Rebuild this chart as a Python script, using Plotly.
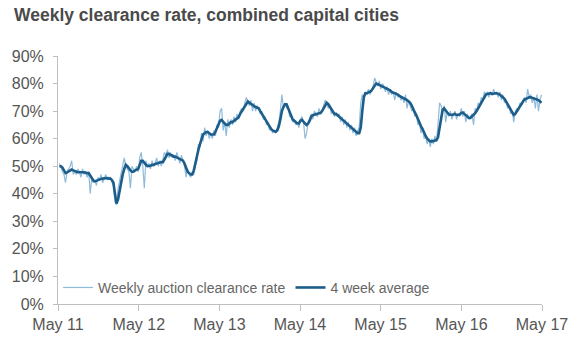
import pandas as pd
import plotly.graph_objects as go

# Weekly auction clearance rate (%), weekly from early May 2011
weekly = [
    51, 50, 48, 47, 44, 48, 49, 50, 52, 47,
    48, 47, 49, 48, 46, 49, 47, 48, 46, 48,
    40, 46, 44, 45, 43, 46, 45, 47, 44, 46,
    47, 45, 46, 46, 44, 43, 37, 36, 42, 45,
    48, 51, 53, 50, 49, 48, 42, 50, 49, 48,
    50, 48, 53, 55, 50, 42, 52, 50, 51, 49,
    52, 50, 51, 53, 50, 52, 50, 53, 55, 54,
    56, 53, 55, 53, 54, 52, 55, 53, 51, 54,
    52, 50, 46, 49, 47, 46, 48, 47, 50, 52,
    58, 57, 62, 59, 64, 61, 63, 60, 62, 60,
    63, 61, 65, 64, 70, 71, 63, 66, 61, 67,
    64, 67, 65, 68, 66, 69, 67, 70, 71, 70,
    73, 75, 73, 72, 74, 70, 73, 70, 72, 71,
    69, 70, 67, 68, 65, 66, 63, 64, 62, 63,
    62, 64, 66, 70, 76, 71, 73, 71, 72, 68,
    68, 66, 67, 65, 66, 64, 67, 68, 66, 60,
    62, 66, 68, 69, 67, 70, 69, 68, 71, 69,
    70, 72, 74, 73, 71, 72, 69, 70, 68, 69,
    68, 69, 66, 68, 65, 67, 64, 66, 63, 65,
    62, 64, 61, 63, 64, 73, 76, 75, 77, 76,
    78, 76, 78, 79, 82, 80, 79, 81, 78, 80,
    79, 77, 79, 76, 78, 76, 77, 74, 77, 75,
    76, 74, 75, 73, 76, 71, 74, 72, 70, 71,
    68, 69, 65, 66, 62, 64, 60, 61, 58, 60,
    57, 60, 58, 61, 59, 65, 73, 72, 70, 72,
    66, 70, 68, 70, 67, 69, 70, 67, 69, 68,
    71, 68, 70, 66, 69, 67, 68, 69, 65, 71,
    70, 73, 72, 75, 74, 77, 76, 77, 75, 77,
    76, 78, 76, 77, 75, 77, 74, 76, 73, 74,
    71, 72, 69, 70, 66, 70, 71, 70, 73, 72,
    74, 75, 73, 78, 75, 76, 73, 75, 71, 76,
    70, 74, 76,
]

# 4 week average (%)
avg4 = [
    50, 50, 49.5, 48.5, 47.5, 47.8, 48.2, 48.6, 48.8, 48.5,
    48.2, 48, 47.8, 47.8, 47.7, 47.8, 47.8, 47.6, 47.5, 47.5,
    46.5, 45.5, 44.8, 44.5, 44.8, 45, 45.2, 45.4, 45.5, 45.6,
    45.5, 45.7, 45.5, 45.5, 45, 44, 40, 36.5, 38, 41,
    44.5, 47, 49, 50.5, 50, 49, 48.5, 48, 48, 48.5,
    48.8, 49, 50.5, 52, 52, 51, 50.5, 50, 50, 50.2,
    50.5, 50.5, 50.8, 51, 51, 51.2, 51.5, 51.5, 52.5, 53.5,
    54.5, 54.5, 54, 54, 53.5, 53.5, 53.2, 53, 52.5, 52.2,
    52, 51, 49.5, 48, 47.5, 47, 47, 48.5, 51, 54,
    56, 58, 60, 61.5, 62, 62.4, 62.4, 62, 61.5, 61.5,
    61.5, 62.5, 64, 65.5, 66.5, 66.8, 66, 65.5, 65, 65,
    65.5, 66, 66, 66.5, 67, 67.5, 67.8, 69, 70, 71,
    72, 73, 73.5, 73, 72.5, 72, 71.8, 71.5, 71.2, 71,
    70, 69, 68, 67, 66.5, 65.5, 64.5, 63.5, 63, 62.8,
    62.5, 63, 64.5, 67, 70, 71.5, 72.5, 72.5, 71, 69.5,
    68, 67, 66.5, 66, 65.5, 65.5, 66.5, 66.8, 66, 65.5,
    65, 65.5, 66.5, 68, 68.5, 68.6, 68.8, 69, 69.2, 69.3,
    70, 71, 72, 73, 72.5, 71.5, 70.5, 69.5, 69, 69,
    68.6, 68, 67.5, 67, 66.5, 66, 65.5, 65, 64.5, 64,
    63.5, 63, 62.5, 62, 62, 64, 70, 75, 76.5, 76.5,
    76.8, 77, 77.5, 78.5, 79.5, 80, 79.8, 79.5, 79.2, 79,
    78.8, 78.5, 78.2, 78, 77.5, 77, 76.8, 76.5, 76.2, 76,
    75.5, 75.2, 75, 74.8, 74.5, 74, 73.5, 73, 72, 70.5,
    69.5, 68.5, 67, 65.5, 64.5, 63.5, 62, 61, 60, 59.5,
    59, 59, 59.2, 59.5, 59.5, 60.5, 64, 68, 70.5, 71,
    70, 69.5, 68.8, 68.6, 68.6, 68.8, 69, 68.6, 68.6, 68.8,
    69.3, 69.5, 69, 68.5, 68, 67.5, 67.5, 68, 68.5, 69.3,
    70, 71, 72, 73.5, 74.5, 75.5, 76, 76.2, 76.5, 76.5,
    76.2, 76.5, 76.5, 76.5, 76.3, 76, 75.5, 75, 74.5, 73.5,
    72.5, 71.5, 70.5, 69.5, 68.6, 69, 70, 71, 71.8, 72.5,
    73.5, 74.2, 74.5, 75, 75, 75, 74.8, 74.7, 74.5, 74.3,
    74, 73.5, 73,
]

dates = pd.date_range(start="2011-05-07", periods=len(weekly), freq="7D")

series_names = ["Weekly auction clearance rate", "4 week average"]
title_text = "Weekly clearance rate, combined capital cities"

FONT = "Liberation Sans, Arial, sans-serif"

fig = go.Figure()
fig.add_trace(go.Scatter(
    x=dates, y=weekly, mode="lines", name=series_names[0],
    line=dict(color="#8fbbdb", width=1.2),
))
fig.add_trace(go.Scatter(
    x=dates, y=avg4, mode="lines", name=series_names[1],
    line=dict(color="#1c5d8a", width=2.6),
))

fig.update_layout(
    width=580, height=352,
    margin=dict(l=55, r=33, t=56, b=48),
    paper_bgcolor="white", plot_bgcolor="white",
    title=dict(
        text="<b>" + title_text + "</b>",
        font=dict(family=FONT, size=17.5, color="#4a4a4a"),
        x=14 / 580, xref="container", xanchor="left",
        y=1 - 15 / 352, yref="container", yanchor="middle",
    ),
    showlegend=True,
    legend=dict(
        orientation="h", x=0.0, xanchor="left", y=0.065, yanchor="middle",
        font=dict(family=FONT, size=14, color="#666666"),
        bgcolor="rgba(0,0,0,0)", itemwidth=30,
    ),
    xaxis=dict(
        type="date",
        range=["2011-05-01", "2017-05-01"],
        tick0="2011-05-01", dtick="M12", tickformat="%b %y",
        showgrid=False, zeroline=False,
        showline=True, linecolor="#bfbfbf", linewidth=1,
        ticks="outside", ticklen=6, tickcolor="#bfbfbf",
        tickfont=dict(family=FONT, size=16, color="#555555"),
    ),
    yaxis=dict(
        range=[0, 90], dtick=10, ticksuffix="%",
        showgrid=False, zeroline=False,
        showline=True, linecolor="#bfbfbf", linewidth=1,
        ticks="outside", ticklen=4, tickcolor="#bfbfbf",
        tickfont=dict(family=FONT, size=16, color="#555555"),
        ticklabelstandoff=6,
    ),
)

fig.write_html("out.html")
